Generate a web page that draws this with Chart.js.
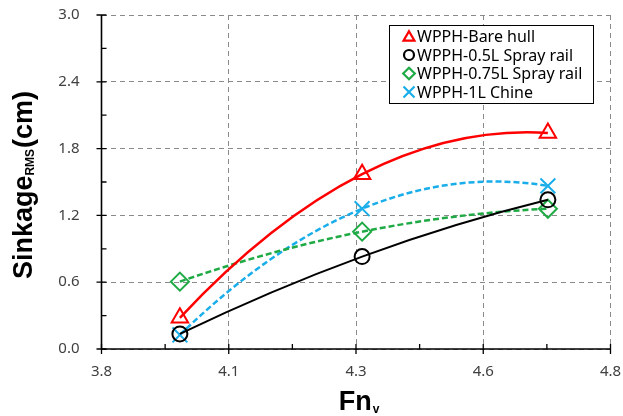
<!DOCTYPE html>
<html><head><meta charset="utf-8">
<script src="https://cdn.jsdelivr.net/npm/chart.js@4/dist/chart.umd.min.js"></script>
<style>html,body{margin:0;padding:0;background:#fff}#wrap{width:623px;height:416px}</style>
</head><body><div id="wrap"><canvas id="c" width="623" height="416"></canvas></div>
<script>
const seriesNames = ['WPPH-Bare hull','WPPH-0.5L Spray rail','WPPH-0.75L Spray rail','WPPH-1L Chine'];
const fnV = [3.954, 4.312, 4.677];
const bareHull = [0.28, 1.57, 1.94];
const spray05 = [0.135, 0.83, 1.34];
const spray075 = [0.605, 1.054, 1.26];
const chine1 = [0.126, 1.26, 1.465];
const xTickValues = [3.8, 4.05, 4.3, 4.55, 4.8];
const xTickLabels = ['3.8','4.1','4.3','4.6','4.8'];
const yTickValues = [0, 0.6, 1.2, 1.8, 2.4, 3.0];
const yTickLabels = ['0.0','0.6','1.2','1.8','2.4','3.0'];

const colors = ['#FF0000','#000000','#1FAA45','#19AEEA'];
const styles = ['triangle','circle','rectRot','crossRot'];
const radii = [9.5, 7.5, 9, 10.5];
const legendRadii = [6.3, 5, 5.8, 7.8];
const dashes = [[], [], [6,3], [6,3]];
const seriesData = [bareHull, spray05, spray075, chine1];

const datasets = seriesData.map((arr, i) => ({
  label: seriesNames[i],
  data: arr.map((v, j) => ({x: fnV[j], y: v})),
  borderColor: colors[i],
  backgroundColor: 'rgba(0,0,0,0)',
  borderWidth: i === 1 ? 2 : 2.5,
  borderDash: dashes[i],
  tension: 0.4,
  pointStyle: styles[i],
  pointRadius: radii[i],
  pointBorderWidth: 2,
  pointBorderColor: colors[i],
  pointBackgroundColor: 'rgba(0,0,0,0)',
  clip: false
}));

// Smooth (Excel-style 2nd order trend curve) control points through the data points
const curveShape = {
  id: 'curveShape',
  beforeDatasetsDraw(chart) {
    const xs = chart.scales.x, ys = chart.scales.y;
    chart.data.datasets.forEach((ds, di) => {
      const meta = chart.getDatasetMeta(di);
      const pts = meta.data;
      const d = ds.data;
      if (d.length !== 3) return;
      const [p0, p1, p2] = d;
      const s1 = (p1.y - p0.y) / (p1.x - p0.x);
      const s2 = (p2.y - p1.y) / (p2.x - p1.x);
      const c = (s2 - s1) / (p2.x - p0.x);
      const slope = x => s1 + c * (2 * x - p0.x - p1.x);
      for (let k = 0; k < d.length; k++) {
        const p = d[k], el = pts[k], m = slope(p.x);
        if (k > 0) {
          const h = (p.x - d[k-1].x) / 3;
          el.cp1x = xs.getPixelForValue(p.x - h);
          el.cp1y = ys.getPixelForValue(p.y - m * h);
        } else { el.cp1x = el.x; el.cp1y = el.y; }
        if (k < d.length - 1) {
          const h = (d[k+1].x - p.x) / 3;
          el.cp2x = xs.getPixelForValue(p.x + h);
          el.cp2y = ys.getPixelForValue(p.y + m * h);
        } else { el.cp2x = el.x; el.cp2y = el.y; }
      }
      if (meta.dataset) { meta.dataset._pointsUpdated = true; meta.dataset._path = undefined; }
    });
  }
};

function drawMarker(ctx, style, x, y, r) {
  ctx.beginPath();
  if (style === 'triangle') {
    ctx.moveTo(x, y - r);
    ctx.lineTo(x + r * Math.sin(Math.PI*2/3), y - r * Math.cos(Math.PI*2/3));
    ctx.lineTo(x - r * Math.sin(Math.PI*2/3), y - r * Math.cos(Math.PI*2/3));
    ctx.closePath();
  } else if (style === 'circle') {
    ctx.arc(x, y, r, 0, Math.PI*2);
  } else if (style === 'rectRot') {
    ctx.moveTo(x, y - r); ctx.lineTo(x + r, y); ctx.lineTo(x, y + r); ctx.lineTo(x - r, y); ctx.closePath();
  } else {
    const d = r * Math.SQRT1_2;
    ctx.moveTo(x - d, y - d); ctx.lineTo(x + d, y + d);
    ctx.moveTo(x + d, y - d); ctx.lineTo(x - d, y + d);
  }
  ctx.stroke();
}

const decor = {
  id: 'decor',
  afterDraw(chart) {
    const ctx = chart.ctx;
    const xs = chart.scales.x, ys = chart.scales.y;
    const a = chart.chartArea;
    ctx.save();
    ctx.strokeStyle = '#000'; ctx.lineWidth = 1.6; ctx.setLineDash([]);
    ctx.beginPath();
    ctx.moveTo(a.left, a.top); ctx.lineTo(a.left, a.bottom); ctx.lineTo(a.right, a.bottom);
    ctx.stroke();
    ctx.lineWidth = 1.3;
    ctx.beginPath();
    for (let i = 0; i < xTickValues.length; i++) {
      const px = xs.getPixelForValue(xTickValues[i]);
      ctx.moveTo(px, a.bottom - 5); ctx.lineTo(px, a.bottom + 5);
      if (i < xTickValues.length - 1) {
        const mx = xs.getPixelForValue((xTickValues[i] + xTickValues[i+1]) / 2);
        ctx.moveTo(mx, a.bottom); ctx.lineTo(mx, a.bottom - 5);
      }
    }
    for (let i = 0; i < yTickValues.length; i++) {
      const py = ys.getPixelForValue(yTickValues[i]);
      ctx.moveTo(a.left - 5, py); ctx.lineTo(a.left + 5, py);
      if (i < yTickValues.length - 1) {
        const my = ys.getPixelForValue((yTickValues[i] + yTickValues[i+1]) / 2);
        ctx.moveTo(a.left, my); ctx.lineTo(a.left + 5, my);
      }
    }
    ctx.stroke();

    ctx.fillStyle = '#000';
    ctx.textBaseline = 'alphabetic';
    const mainF = 'bold 27px "Liberation Sans", Arial, sans-serif';
    const subF = 'bold 12px "Liberation Sans", Arial, sans-serif';
    ctx.font = mainF; const w1 = ctx.measureText('Sinkage').width; const w3 = ctx.measureText('(cm)').width;
    ctx.font = subF; const w2 = ctx.measureText('RMS').width + 1;
    const tot = w1 + w2 + w3;
    ctx.save();
    ctx.translate(32, 185);
    ctx.rotate(-Math.PI/2);
    let sx = -tot/2;
    ctx.textAlign = 'left';
    ctx.font = mainF; ctx.fillText('Sinkage', sx, 0); sx += w1;
    ctx.font = subF; ctx.fillText('RMS', sx, 2); sx += w2;
    ctx.font = mainF; ctx.fillText('(cm)', sx, 0);
    ctx.restore();
    ctx.font = mainF; const f1 = ctx.measureText('Fn').width;
    ctx.font = subF; const f2 = ctx.measureText('v').width;
    let fx = 359 - (f1 + f2 + 1)/2;
    ctx.textAlign = 'left';
    ctx.font = mainF; ctx.fillText('Fn', fx, 410);
    ctx.font = subF; ctx.fillText('v', fx + f1 + 1, 413);

    const lx = 389, ly = 25, lw = 204, lh = 78;
    ctx.fillStyle = '#fff';
    ctx.fillRect(lx, ly, lw, lh);
    ctx.strokeStyle = '#000'; ctx.lineWidth = 1;
    ctx.strokeRect(lx + 0.5, ly + 0.5, lw, lh);
    ctx.font = '16px "Noto Sans", sans-serif';
    ctx.textBaseline = 'middle';
    ctx.textAlign = 'left';
    const rows = [36.5, 55, 73.5, 92];
    for (let i = 0; i < seriesNames.length; i++) {
      ctx.strokeStyle = colors[i]; ctx.lineWidth = 2.2; ctx.setLineDash([]);
      drawMarker(ctx, styles[i], 409, rows[i] + (i === 0 ? 1 : 0), legendRadii[i]);
      ctx.fillStyle = '#000';
      ctx.fillText(seriesNames[i], 417, rows[i] + 1);
    }
    ctx.restore();
  }
};

new Chart(document.getElementById('c'), {
  type: 'line',
  data: { datasets },
  options: {
    responsive: false,
    animation: false,
    devicePixelRatio: 1,
    layout: { padding: { left: 0, right: 10, top: 15, bottom: 0 } },
    plugins: { legend: { display: false }, tooltip: { enabled: false } },
    scales: {
      x: {
        type: 'linear', min: 3.8, max: 4.8,
        afterBuildTicks(s) { s.ticks = xTickValues.map(v => ({ value: v })); },
        afterFit(s) { s.height = 67; s.paddingLeft = 0; s.paddingRight = 0; },
        ticks: {
          callback: (v, i) => xTickLabels[i],
          font: { family: '"Noto Sans", sans-serif', size: 15 },
          color: '#404040', padding: 14, maxRotation: 0, autoSkip: false
        },
        grid: { color: '#8a8a8a', lineWidth: 1, drawTicks: false },
        border: { display: false, dash: [5, 4] }
      },
      y: {
        type: 'linear', min: 0, max: 3.0,
        afterBuildTicks(s) { s.ticks = yTickValues.map(v => ({ value: v })); },
        afterFit(s) { s.width = 101.5; s.paddingTop = 0; s.paddingBottom = 0; },
        ticks: {
          callback: (v, i) => yTickLabels[i],
          font: { family: '"Noto Sans", sans-serif', size: 15 },
          color: '#404040', padding: 22, autoSkip: false
        },
        grid: { color: '#8a8a8a', lineWidth: 1, drawTicks: false },
        border: { display: false, dash: [5, 4] }
      }
    }
  },
  plugins: [curveShape, decor]
});
</script></body></html>
